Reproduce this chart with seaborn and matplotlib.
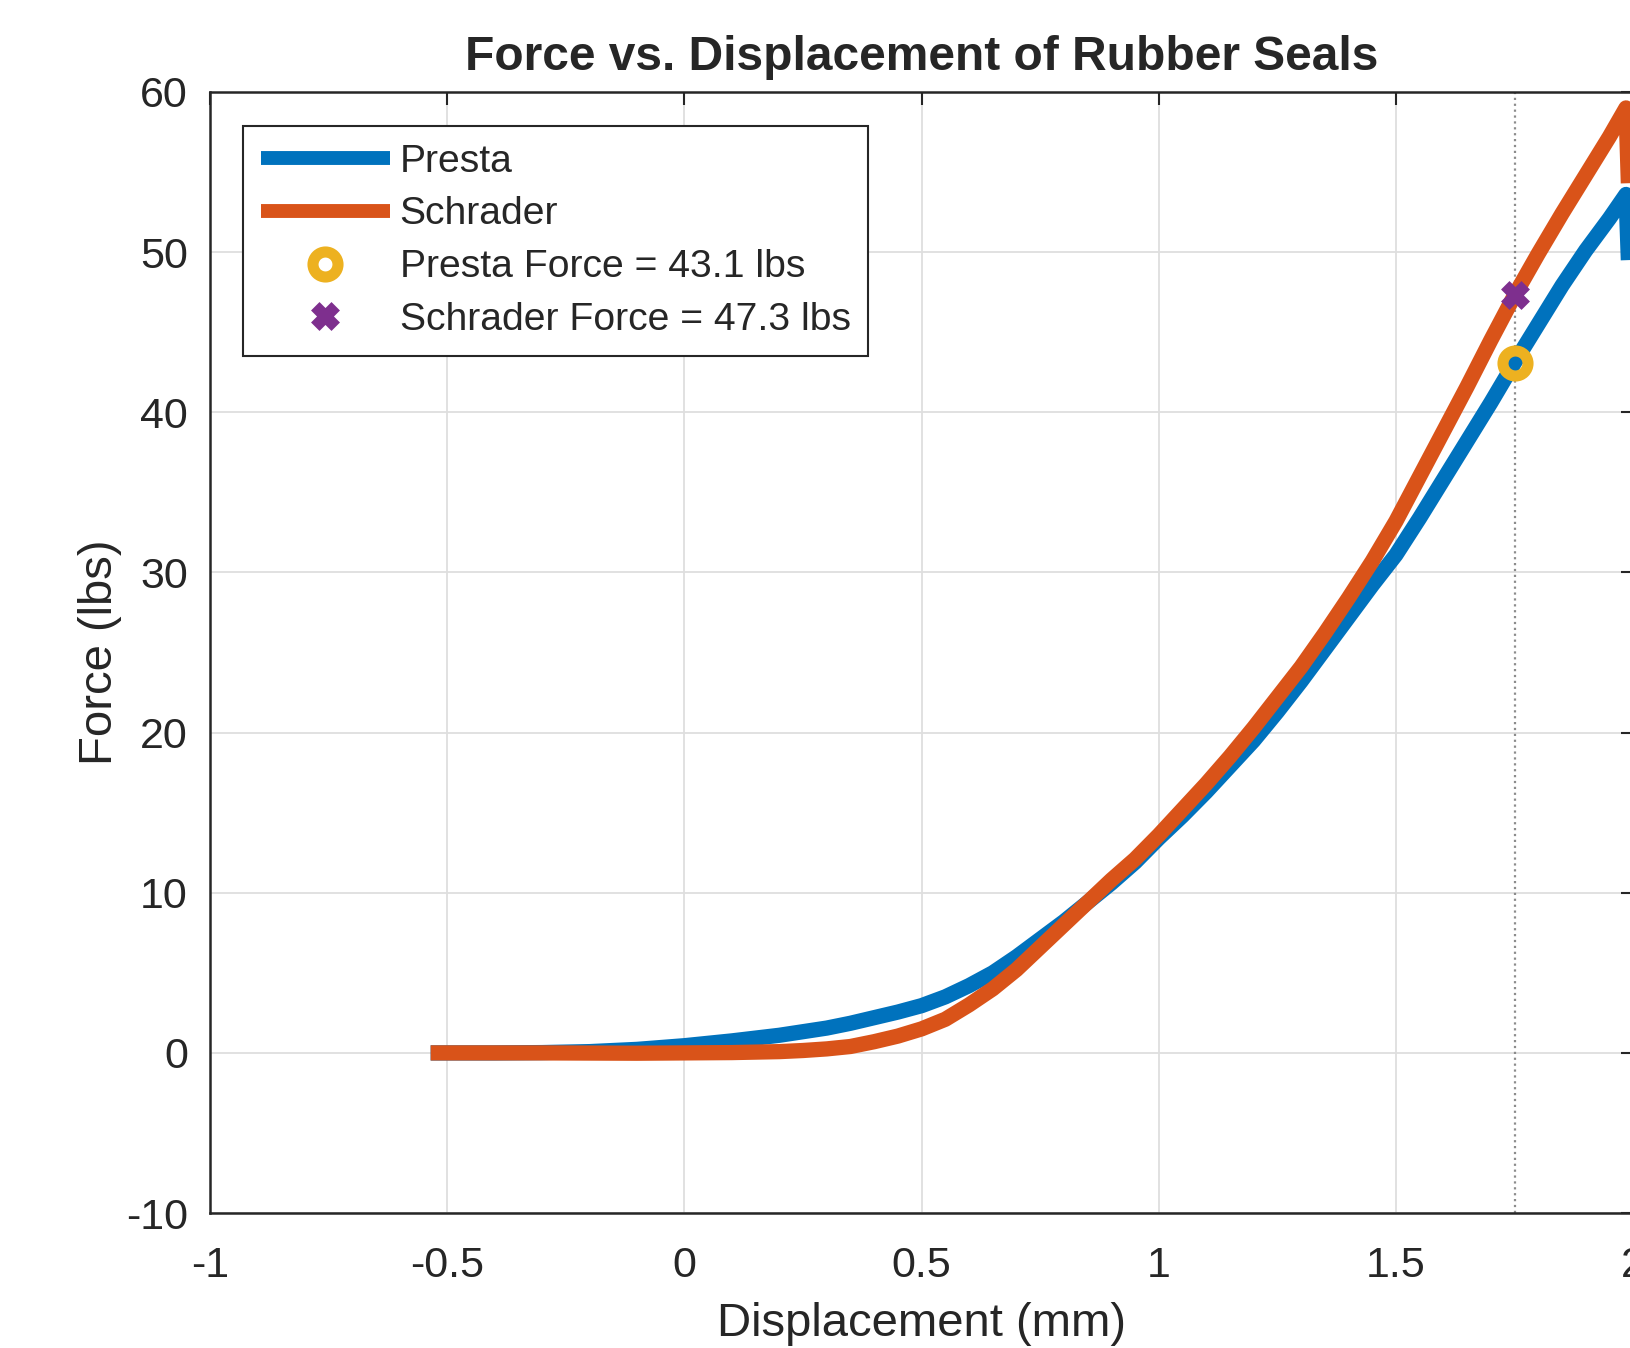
import matplotlib
matplotlib.use('Agg')
import matplotlib.pyplot as plt
import pandas as pd
import seaborn as sns
from matplotlib.lines import Line2D

# Data
disp_presta = [-0.535, -0.4, -0.3, -0.2, -0.1, 0.0, 0.1, 0.2, 0.3, 0.35, 0.4, 0.45,
               0.5, 0.55, 0.6, 0.65, 0.7, 0.75, 0.8, 0.85, 0.9, 0.95, 1.0, 1.05,
               1.1, 1.15, 1.2, 1.25, 1.3, 1.35, 1.4, 1.45, 1.5, 1.55, 1.6, 1.65,
               1.7, 1.75, 1.8, 1.85, 1.9, 1.95, 1.985, 1.99]
force_presta = [0.0, 0.0, 0.02, 0.08, 0.22, 0.45, 0.75, 1.1, 1.55, 1.85, 2.2, 2.55,
                2.95, 3.5, 4.2, 5.0, 6.0, 7.1, 8.2, 9.4, 10.6, 11.9, 13.4, 14.8,
                16.3, 17.9, 19.5, 21.3, 23.2, 25.2, 27.2, 29.2, 31.1, 33.4, 35.8, 38.2,
                40.6, 43.1, 45.5, 47.9, 50.1, 52.1, 53.6, 49.5]

disp_schrader = [-0.535, -0.3, -0.1, 0.0, 0.1, 0.2, 0.25, 0.3, 0.35, 0.4, 0.45,
                 0.5, 0.55, 0.6, 0.65, 0.7, 0.75, 0.8, 0.85, 0.9, 0.95, 1.0, 1.05,
                 1.1, 1.15, 1.2, 1.25, 1.3, 1.35, 1.4, 1.45, 1.5, 1.55, 1.6, 1.65,
                 1.7, 1.75, 1.8, 1.85, 1.9, 1.95, 1.985, 1.99]
force_schrader = [0.0, 0.0, -0.02, 0.0, 0.02, 0.08, 0.15, 0.25, 0.4, 0.7, 1.05,
                  1.5, 2.1, 3.0, 4.0, 5.2, 6.6, 8.0, 9.4, 10.8, 12.1, 13.6, 15.2,
                  16.8, 18.5, 20.3, 22.2, 24.1, 26.2, 28.4, 30.7, 33.2, 36.0, 38.8, 41.6,
                  44.5, 47.3, 49.9, 52.4, 54.8, 57.2, 59.0, 54.3]

mark_disp = 1.75
presta_force = 43.1
schrader_force = 47.3

x_ticks = [-1, -0.5, 0, 0.5, 1, 1.5, 2]
x_tick_labels = ['-1', '-0.5', '0', '0.5', '1', '1.5', '2']
y_ticks = [-10, 0, 10, 20, 30, 40, 50, 60]

blue = '#0072BD'
orange = '#D95319'
yellow = '#EDB120'
purple = '#7E2F8E'

sns.set_theme(style='whitegrid')
plt.rcParams['font.family'] = ['Liberation Sans', 'DejaVu Sans']
plt.rcParams['axes.unicode_minus'] = False

fig = plt.figure(figsize=(16.31, 13.48), dpi=100)
ax = fig.add_axes([0.1288, 0.1001, 0.8725, 0.8317])

df_p = pd.DataFrame({'disp': disp_presta, 'force': force_presta})
df_s = pd.DataFrame({'disp': disp_schrader, 'force': force_schrader})

ax.axvline(mark_disp, color='#8c8c8c', ls=':', lw=1.6, zorder=1.5)

sns.lineplot(data=df_p, x='disp', y='force', ax=ax, color=blue, lw=11,
             sort=False, estimator=None, zorder=3,
             solid_capstyle='butt', solid_joinstyle='round')
sns.lineplot(data=df_s, x='disp', y='force', ax=ax, color=orange, lw=11,
             sort=False, estimator=None, zorder=3,
             solid_capstyle='butt', solid_joinstyle='round')

ax.plot([mark_disp], [presta_force], ls='none', marker='o', ms=18, mew=8,
        mec=yellow, mfc='none', zorder=4)
ax.plot([mark_disp], [schrader_force], ls='none', marker='X', ms=17, mew=2.5,
        mec=purple, mfc=purple, zorder=4)

ax.set_xlim(-1, 2)
ax.set_ylim(-10, 60)
ax.set_xticks(x_ticks)
ax.set_xticklabels(x_tick_labels)
ax.set_yticks(y_ticks)

ax.grid(True, color='#dedede', lw=1.3)
for s in ax.spines.values():
    s.set_color('#262626')
    s.set_linewidth(1.8)
    s.set_visible(True)
ax.tick_params(direction='in', length=9, width=1.5, top=True, right=True,
               labelsize=31, labelcolor='#262626', color='#262626')
ax.tick_params(axis='x', pad=24)
ax.tick_params(axis='y', pad=16)

ax.set_title('Force vs. Displacement of Rubber Seals', fontsize=34.5,
             fontweight='bold', pad=16)
ax.set_xlabel('Displacement (mm)', fontsize=34, color='#262626', labelpad=11)
ax.set_ylabel('Force (lbs)', fontsize=34, color='#262626', labelpad=3)

handles = [
    Line2D([], [], color=blue, lw=10, solid_capstyle='butt'),
    Line2D([], [], color=orange, lw=10, solid_capstyle='butt'),
    Line2D([], [], ls='none', marker='o', ms=18, mew=8, mec=yellow, mfc='white'),
    Line2D([], [], ls='none', marker='X', ms=17, mew=2.5, mec=purple, mfc=purple),
]
labels = ['Presta', 'Schrader',
          f'Presta Force = {presta_force} lbs',
          f'Schrader Force = {schrader_force} lbs']
leg = ax.legend(handles, labels, loc='upper left', bbox_to_anchor=(0.0232, 0.9697),
                borderaxespad=0, fontsize=28.2, handlelength=3.3, handletextpad=0.25,
                borderpad=0.45, labelspacing=0.43, fancybox=False, framealpha=1,
                edgecolor='#262626')
leg.get_frame().set_linewidth(1.5)
for t in leg.get_texts():
    t.set_color('#262626')

fig.savefig('out.png', dpi=100)
